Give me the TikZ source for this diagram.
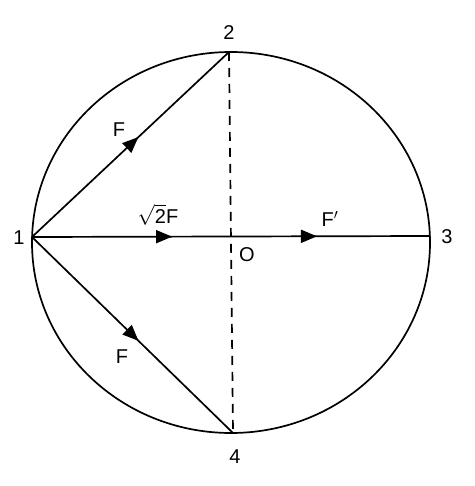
\documentclass[tikz,border=0pt]{standalone}
\usepackage{fontspec}
\setmainfont{Liberation Sans}
\usetikzlibrary{arrows.meta,decorations.markings}
\tikzset{
  edge/.style={line width=1.7pt, black},
  tri/.style={postaction={decorate},decoration={markings,
     mark=at position #1 with {\arrow{Triangle[length=16pt,width=13pt]}}}},
  lbl/.style={font=\fontsize{20}{20}\selectfont, inner sep=0pt},
  dashline/.style={line width=1.7pt, dash pattern=on 9pt off 7pt}
}
\begin{document}
\begin{tikzpicture}[x=1pt,y=-1pt]
\useasboundingbox (0,0) rectangle (474,486);
\draw[edge] (231,242.5) ellipse [x radius=199, y radius=190.5];
\coordinate (p1) at (32,237);
\coordinate (p2) at (229,52);
\coordinate (p3) at (430,236);
\coordinate (p4) at (233,433);
\draw[dashline] (p2) -- (p4);
\draw[edge, tri=0.54] (p1) -- (p2);
\draw[edge, tri=0.53] (p1) -- (p4);
\draw[edge, postaction={decorate}, decoration={markings,
   mark=at position 0.352 with {\arrow{Triangle[length=16pt,width=13pt]}},
   mark=at position 0.716 with {\arrow{Triangle[length=16pt,width=13pt]}}}] (p1) -- (p3);
\node[lbl] (n1) at (19,238) {1};
\node[lbl] (n2) at (229,33) {2};
\node[lbl] (n3) at (447,237) {3};
\node[lbl] (n4) at (235,457) {4};
\node[lbl] (no) at (247,255) {O};
\node[lbl] (fa) at (119,130) {F};
\node[lbl] (fb) at (122,357) {F};
\node[lbl] (fr) at (158,215) {$\sqrt{\mbox{2}}$F};
\node[lbl] (fp) at (330,219) {F$'$};
\end{tikzpicture}
\end{document}
